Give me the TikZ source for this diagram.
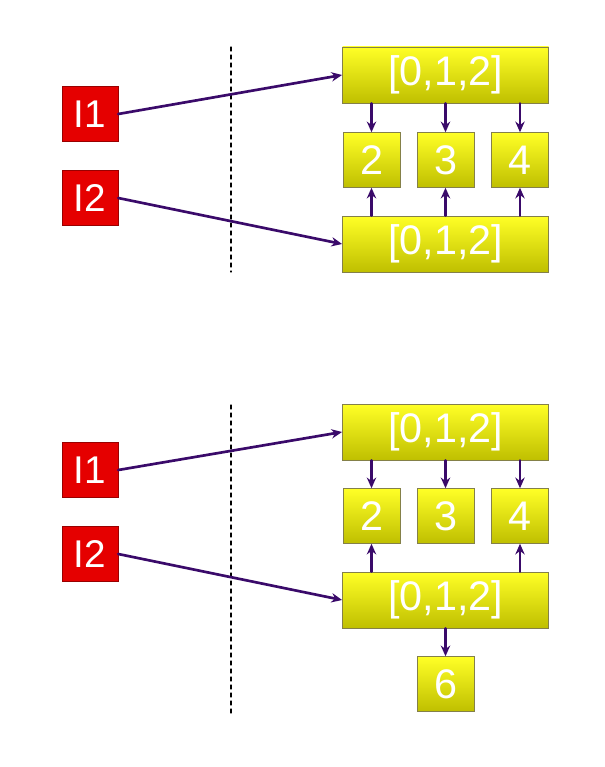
\documentclass[tikz,border=0pt]{standalone}
\usepackage{fontspec}
\setmainfont{Liberation Sans}
\usetikzlibrary{arrows.meta}
\begin{document}
\begin{tikzpicture}
			[x=0.75pt,y=-0.75pt,line cap=round,
			%Styles
			box/.style={draw=yellow!45!black,line width=0.6pt,top color=yellow!85!white,bottom color=yellow!75!black,
				text=white,inner sep=0pt,font=\fontsize{31}{31}\selectfont},
			wide box/.style={box,minimum width=154.5pt,minimum height=42pt},
			small box/.style={box,minimum width=42.75pt,minimum height=41pt},
			var box/.style={draw=red!60!black,fill=red!90!black,text=white,inner sep=0pt,
				minimum width=42pt,minimum height=41pt,font=\fontsize{29}{29}\selectfont},
			link/.style={-{Stealth[length=8pt,width=7pt]},line width=2pt,draw=arrowcolor}
			]
			
			%Colors
			\definecolor{arrowcolor}{HTML}{3A0A6A}
			
			\useasboundingbox (0,0) rectangle (605,767);
			
			%Top: two variables sharing children
			\node[var box] (i1a) at (90,114) {I1};
			\node[var box] (i2a) at (90,198) {I2};
			\node[wide box] (ta) at (445.5,75) {[0,1,2]};
			\node[wide box] (ba) at (445.5,244) {[0,1,2]};
			\node[small box] (c2a) at (371.5,160) {2};
			\node[small box] (c3a) at (445.5,160) {3};
			\node[small box] (c4a) at (520,160) {4};
			\draw[dashed,thick] (231,47) -- (231,272);
			\draw[link] (i1a.east) -- (ta.west);
			\draw[link] (i2a.east) -- (ba.west);
			\foreach \c in {c2a,c3a,c4a} {
				\draw[link] (ta.south -| \c) -- (\c.north);
				\draw[link] (ba.north -| \c) -- (\c.south);
			}
			
			%Bottom: second list gets a new child
			\node[var box] (i1b) at (90,470) {I1};
			\node[var box] (i2b) at (90,554) {I2};
			\node[wide box] (tb) at (445.5,432) {[0,1,2]};
			\node[wide box] (bb) at (445.5,600) {[0,1,2]};
			\node[small box] (c2b) at (371.5,516) {2};
			\node[small box] (c3b) at (445.5,516) {3};
			\node[small box] (c4b) at (520,516) {4};
			\node[small box] (c6b) at (445.5,684) {6};
			\draw[dashed,thick] (231,405) -- (231,715);
			\draw[link] (i1b.east) -- (tb.west);
			\draw[link] (i2b.east) -- (bb.west);
			\foreach \c in {c2b,c3b,c4b}
				\draw[link] (tb.south -| \c) -- (\c.north);
			\foreach \c in {c2b,c4b}
				\draw[link] (bb.north -| \c) -- (\c.south);
			\draw[link] (bb.south) -- (c6b.north);
		\end{tikzpicture}
\end{document}
